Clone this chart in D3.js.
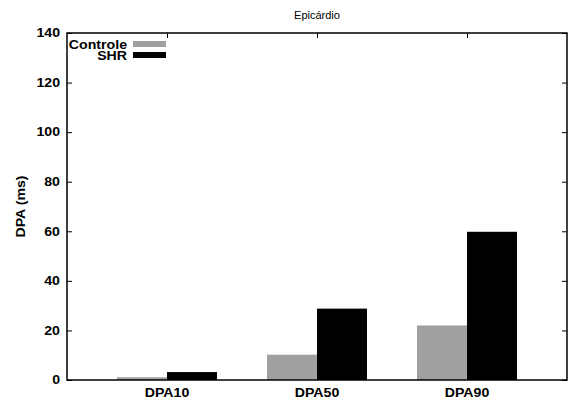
<!DOCTYPE html>
<html><head><meta charset="utf-8">
<script src="https://cdn.jsdelivr.net/npm/d3@7"></script>
<style>body{margin:0;background:#fff}svg{display:block}text{font-family:"Liberation Sans",Arial,sans-serif}</style>
</head><body>
<svg id="c" width="568" height="403"></svg>
<script>
const categories = ["DPA10","DPA50","DPA90"];
const seriesNames = ["Controle","SHR"];
const controle = [1.1, 10.2, 22.0];
const shr = [3.2, 28.8, 59.8];
const yTicks = [0,20,40,60,80,100,120,140];
const colors = ["#a0a0a0","#000000"];
const title = "Epicárdio";
const yLabel = "DPA (ms)";

const svg = d3.select("#c");
const L=67, R=567, T=33, B=380;
const SX=1.18;
const y = d3.scaleLinear().domain([0,140]).range([B,T]);
const x = d3.scaleLinear().domain([-2/3, categories.length-1+2/3]).range([L,R]);
const bw = 50;
const series=[controle, shr];

series.forEach((vals,si)=>{
  svg.append("g").selectAll("rect").data(vals).join("rect")
    .attr("x",(d,i)=>x(i)-bw+si*bw).attr("width",bw)
    .attr("y",d=>y(d)).attr("height",d=>B-y(d))
    .attr("fill",colors[si]);
});

const tl=5;
const gl=svg.append("g").attr("transform",`translate(${L},0)`).call(d3.axisLeft(y).tickValues(yTicks).tickSize(-tl).tickFormat(""));
const gr=svg.append("g").attr("transform",`translate(${R},0)`).call(d3.axisRight(y).tickValues(yTicks).tickSize(-tl).tickFormat(""));
const gb=svg.append("g").attr("transform",`translate(0,${B})`).call(d3.axisBottom(x).tickValues(d3.range(categories.length)).tickSize(-tl).tickFormat(""));
const gt=svg.append("g").attr("transform",`translate(0,${T})`).call(d3.axisTop(x).tickValues(d3.range(categories.length)).tickSize(-tl).tickFormat(""));
[gl,gr,gb,gt].forEach(g=>{g.select(".domain").remove();g.selectAll("line").attr("stroke","#000");});

function txt(px,py,s,opts){
  const sx=opts.sx||SX;
  return svg.append("text")
    .attr("transform",`translate(${px},${py})${opts.rot?` rotate(${opts.rot})`:""} scale(${sx},1)`)
    .attr("text-anchor",opts.anchor||"middle")
    .attr("font-size",opts.size||12)
    .attr("font-weight",opts.bold===false?"normal":"bold")
    .attr("fill","#000").text(s);
}
yTicks.forEach(v=>txt(60,y(v)+4.3,v,{anchor:"end"}));
categories.forEach((c,i)=>txt(x(i),397,c,{}));
svg.append("rect").attr("x",L).attr("y",T).attr("width",R-L).attr("height",B-T).attr("fill","none").attr("stroke","#000").attr("stroke-width",1.5);

txt((L+R)/2,19,title,{size:10,bold:false,sx:1.1});
txt(25,(T+B)/2,yLabel,{rot:-90});

seriesNames.forEach((n,i)=>{
  const yy=44+i*11;
  txt(127,yy+4.5,n,{anchor:"end"});
  svg.append("rect").attr("x",133).attr("y",yy-3).attr("width",33).attr("height",6).attr("fill",colors[i]);
});
</script>
</body></html>
